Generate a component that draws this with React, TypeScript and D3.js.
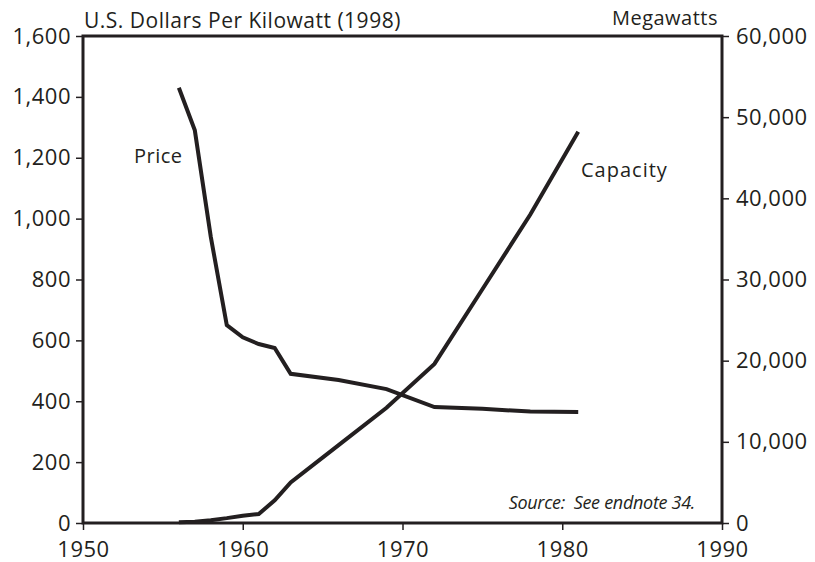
import React, { useEffect, useRef } from "react";
import * as d3 from "d3";

const years = [1956, 1957, 1958, 1959, 1960, 1961, 1962, 1963, 1966, 1969, 1972, 1975, 1978, 1981];
const price = [1430, 1290, 940, 650, 610, 588, 575, 490, 470, 440, 381, 375, 366, 365];

const capYears = [1956, 1957, 1958, 1959, 1960, 1961, 1962, 1963, 1966, 1969, 1972, 1975, 1978, 1981];
const capacity = [80, 150, 350, 600, 900, 1100, 2800, 5000, 9600, 14200, 19600, 28800, 38000, 48200];

const xTicks = [1950, 1960, 1970, 1980, 1990];
const leftTicks = [0, 200, 400, 600, 800, 1000, 1200, 1400, 1600];
const rightTicks = [0, 10000, 20000, 30000, 40000, 50000, 60000];

const INK = "#231f20";
const FONT = "'Open Sans', sans-serif";

export default function App() {
  const svgRef = useRef<SVGSVGElement>(null);

  useEffect(() => {
    const width = 815;
    const height = 562;
    const margin = { top: 36, right: 93, bottom: 39, left: 83 };

    d3.select(svgRef.current).selectAll("*").remove();
    const svg = d3.select(svgRef.current).attr("width", width).attr("height", height);

    const x = d3.scaleLinear().domain([1950, 1990]).range([margin.left, width - margin.right]);
    const yL = d3.scaleLinear().domain([0, 1600]).range([height - margin.bottom, margin.top]);
    const yR = d3.scaleLinear().domain([0, 60000]).range([height - margin.bottom, margin.top]);

    const fmt = d3.format(",");

    // Axes
    const styleAxis = (g: any) => {
      g.select(".domain").remove();
      g.selectAll("line").attr("stroke", INK).attr("stroke-width", 1.5);
      g.selectAll("text")
        .attr("fill", INK)
        .style("font-family", FONT)
        .style("font-size", "22px")
        .style("letter-spacing", "0.5px");
    };

    svg
      .append("g")
      .attr("transform", `translate(0,${height - margin.bottom})`)
      .call(d3.axisBottom(x).tickValues(xTicks).tickFormat(d3.format("d")).tickSize(7).tickPadding(11))
      .call(styleAxis);

    svg
      .append("g")
      .attr("transform", `translate(${margin.left},0)`)
      .call(d3.axisLeft(yL).tickValues(leftTicks).tickFormat((d: any) => fmt(d)).tickSize(7).tickPadding(5))
      .call(styleAxis);

    svg
      .append("g")
      .attr("transform", `translate(${width - margin.right},0)`)
      .call(d3.axisRight(yR).tickValues(rightTicks).tickFormat((d: any) => fmt(d)).tickSize(7).tickPadding(7))
      .call(styleAxis);

    // Frame
    svg
      .append("rect")
      .attr("x", margin.left)
      .attr("y", margin.top)
      .attr("width", width - margin.left - margin.right)
      .attr("height", height - margin.top - margin.bottom)
      .attr("fill", "none")
      .attr("stroke", INK)
      .attr("stroke-width", 3);

    // Lines
    const priceLine = d3
      .line<number>()
      .x((_, i) => x(years[i]))
      .y((d) => yL(d));

    const capLine = d3
      .line<number>()
      .x((_, i) => x(capYears[i]))
      .y((d) => yR(d));

    svg
      .append("path")
      .datum(price)
      .attr("d", priceLine)
      .attr("fill", "none")
      .attr("stroke", INK)
      .attr("stroke-width", 4)
      .attr("stroke-linejoin", "miter");

    svg
      .append("path")
      .datum(capacity)
      .attr("d", capLine)
      .attr("fill", "none")
      .attr("stroke", INK)
      .attr("stroke-width", 4)
      .attr("stroke-linejoin", "miter");

    // Labels
    const text = (
      tx: number,
      ty: number,
      s: string,
      size: number,
      anchor = "start",
      italic = false,
      spacing = 0.5
    ) =>
      svg
        .append("text")
        .attr("x", tx)
        .attr("y", ty)
        .attr("text-anchor", anchor)
        .attr("fill", INK)
        .style("font-family", FONT)
        .style("font-size", `${size}px`)
        .style("font-style", italic ? "italic" : "normal")
        .style("letter-spacing", `${spacing}px`)
        .style("white-space", "pre")
        .text(s);

    text(84, 28, "U.S. Dollars Per Kilowatt (1998)", 21);
    text(718, 25, "Megawatts", 20, "end");
    text(134, 163, "Price", 20);
    text(581, 177, "Capacity", 20, "start", false, 1);
    text(695, 509, "Source:  See endnote 34.", 18, "end", true, -0.3);
  }, []);

  return <svg ref={svgRef} style={{ position: "absolute", left: 0, top: 0 }}></svg>;
}
